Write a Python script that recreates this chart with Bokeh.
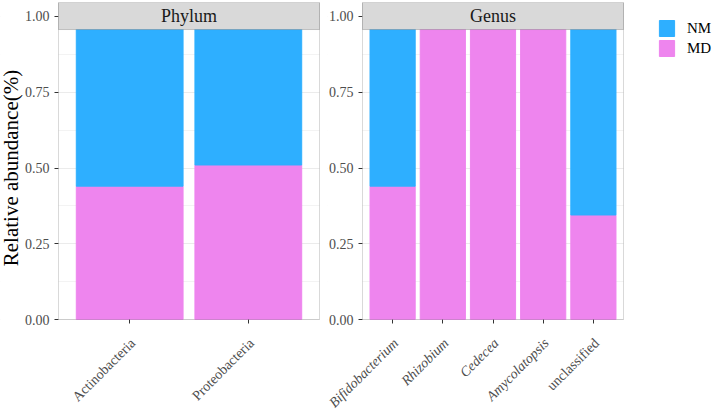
import math
from bokeh.plotting import figure
from bokeh.models import (ColumnDataSource, Range1d, FixedTicker, Label, BoxAnnotation,
                          Legend, LegendItem, PrintfTickFormatter, CustomJSTickFormatter,
                          LinearAxis, Grid)
from bokeh.core.properties import value
from bokeh.layouts import row
from bokeh.embed import file_html
from bokeh.resources import INLINE

# ---- data ----
phylum_cats = ["Actinobacteria", "Proteobacteria"]
phylum_md = [0.44, 0.51]
phylum_nm = [0.56, 0.49]

genus_cats = ["Bifidobacterium", "Rhizobium", "Cedecea", "Amycolatopsis", "unclassified"]
genus_md = [0.44, 1.0, 1.0, 1.0, 0.345]
genus_nm = [0.56, 0.0, 0.0, 0.0, 0.655]
genus_style = ["italic", "italic", "italic", "italic", "normal"]

y_ticks = [0.0, 0.25, 0.5, 0.75, 1.0]
series = ["MD", "NM"]
legend_order = ["NM", "MD"]

# ---- style ----
FONT = "Liberation Serif"
BLUE = "#2EAFFF"
PINK = "#EE85EE"
H = 413
TOP = 2
Y_START = -0.3102
Y_END = 1.0462
STRIP_BOTTOM = 0.957
PANEL_PX = 261


def panel(cats, md, nm, styles, width, left_px, title):
    n = len(cats)
    xs = list(range(1, n + 1))
    x0, x1 = 0.4, n + 0.6
    upx = (x1 - x0) / PANEL_PX
    right_px = width - left_px - PANEL_PX
    x_start = x0 - left_px * upx
    x_end = x1 + right_px * upx
    p = figure(width=width, height=H, output_backend="svg", toolbar_location=None,
               x_range=Range1d(x_start, x_end), y_range=Range1d(Y_START, Y_END),
               x_axis_location=None, y_axis_location=None,
               min_border_left=0, min_border_right=0, min_border_top=TOP,
               min_border_bottom=0)
    p.outline_line_color = None
    p.xgrid.visible = False
    p.ygrid.visible = False

    minors = [(a + b) / 2 for a, b in zip(y_ticks[:-1], y_ticks[1:])]
    yticker = FixedTicker(ticks=y_ticks, minor_ticks=minors)
    p.add_layout(Grid(dimension=1, ticker=yticker, grid_line_color="#EBEBEB",
                      minor_grid_line_color="#F3F3F3"))

    # white areas outside the panel (hide grid lines there)
    p.add_layout(BoxAnnotation(right=x0, fill_color="white", fill_alpha=1,
                               line_color=None, level="underlay"))
    p.add_layout(BoxAnnotation(left=x1, fill_color="white", fill_alpha=1,
                               line_color=None, level="underlay"))

    src = ColumnDataSource(dict(x=xs, MD=md, NM=nm, label=cats, style=styles))
    rs = p.vbar_stack(series, x="x", width=0.9, color=[PINK, BLUE], source=src)

    ya = LinearAxis(fixed_location=x0, ticker=yticker,
                    formatter=PrintfTickFormatter(format="%.2f"))
    xa = LinearAxis(fixed_location=0, ticker=FixedTicker(ticks=xs),
                    formatter=CustomJSTickFormatter(code="return ''"))
    p.add_layout(ya, "left")
    p.add_layout(xa, "below")
    for ax in (xa, ya):
        ax.axis_line_color = None
        ax.major_tick_out = 4
        ax.major_tick_in = 0
        ax.minor_tick_out = 0
        ax.minor_tick_in = 0
        ax.major_tick_line_color = "#333333"
        ax.major_label_text_font = FONT
        ax.major_label_text_font_size = "14px"
        ax.major_label_text_color = "#4D4D4D"
        ax.major_label_standoff = 5

    # panel border and strip
    p.add_layout(BoxAnnotation(left=x0, right=x1, bottom=0, fill_alpha=0,
                               line_color="#808080", line_width=1))
    p.add_layout(BoxAnnotation(left=x0, right=x1, bottom=STRIP_BOTTOM,
                               fill_color="#D9D9D9", fill_alpha=1,
                               line_color="#595959", line_width=1))
    p.add_layout(Label(x=(x0 + x1) / 2, y=(Y_END + STRIP_BOTTOM) / 2, text=title,
                       text_align="center", text_baseline="middle", text_font=FONT,
                       text_font_size="18px", text_color="#1A1A1A"))

    # rotated category labels
    p.text(x="x", y=0, text="label", source=src, angle=math.pi / 4,
           text_align="right", text_baseline="top", x_offset=-2, y_offset=16,
           text_font=value(FONT), text_font_size=value("14px"),
           text_font_style="style", text_color="#4D4D4D")
    return p, dict(zip(series, rs)), x_start


p1, _, x_start1 = panel(phylum_cats, phylum_md, phylum_nm,
                        ["normal"] * len(phylum_cats), 327, 58, "Phylum")
p1.add_layout(Label(x=x_start1, y=0.5, x_offset=-2, text="Relative abundance(%)",
                    angle=math.pi / 2, text_align="center", text_baseline="top",
                    text_font=FONT, text_font_size="21px", text_color="#000000"))

p2, r2, _ = panel(genus_cats, genus_md, genus_nm, genus_style, 385, 35, "Genus")
legend = Legend(items=[LegendItem(label=s, renderers=[r2[s]]) for s in legend_order],
                location=(330, 355), glyph_width=19, glyph_height=20, label_height=20,
                spacing=0, padding=0, margin=0, label_standoff=11,
                label_text_font=FONT, label_text_font_size="15px",
                label_text_color="#000000", border_line_color=None,
                background_fill_alpha=0)
p2.add_layout(legend)

layout = row(p1, p2)
open("out.html", "w").write(file_html(layout, INLINE))
